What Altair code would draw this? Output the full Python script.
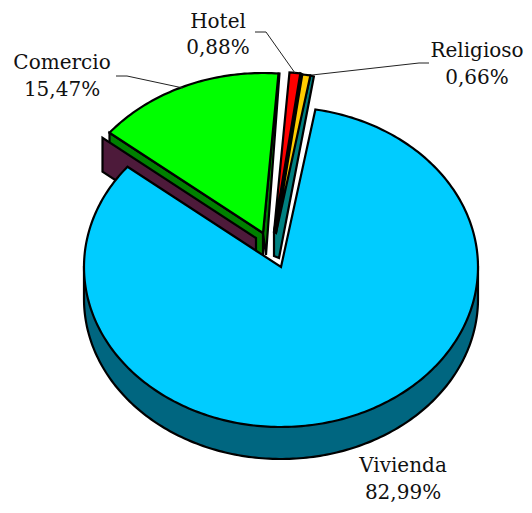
import math
import altair as alt

# Data
categories = ["Vivienda", "Comercio", "Hotel", "Religioso"]
shares = [82.99, 15.47, 0.88, 0.66]
share_labels = ["82,99%", "15,47%", "0,88%", "0,66%"]

# Pie geometry (chart pixels; page margin is 8px)
M = 8
RX, RY, DEPTH = 197, 160, 32
START = 10.05
CENTERS = {
    "Vivienda": (281 - M, 267 - M),
    "Comercio": (263 - M, 233 - M),
    "Hotel": (274 - M, 232 - M),
    "Religioso": (276 - M, 233 - M),
}
TOP = {"Vivienda": "#00CCFF", "Comercio": "#00FF00", "Hotel": "#FF0000", "Religioso": "#FFCC00"}


def pt(c, a, r=1.0):
    t = math.radians(a)
    return [c[0] + RX * r * math.sin(t), c[1] - RY * r * math.cos(t)]


def arc(c, a0, a1):
    n = max(2, int(abs(a1 - a0)) + 1)
    return [pt(c, a0 + (a1 - a0) * i / n) for i in range(n + 1)]


def shift(p, dx, dy):
    return [p[0] + dx, p[1] + dy]


def feat(key, ring):
    ring = [list(p) for p in ring]
    ring = ring + [ring[0]]
    return {
        "type": "Feature",
        "properties": {"key": key},
        "geometry": {"type": "Polygon", "coordinates": [ring]},
    }


# sector angle ranges derived from the shares
angles = {}
a = START
for cat, s in zip(categories, shares):
    angles[cat] = (a, a + s * 3.6)
    a += s * 3.6

features = []
cc = CENTERS["Comercio"]
c_a0, c_a1 = angles["Comercio"]
cv = CENTERS["Vivienda"]
ch = CENTERS["Hotel"]
cr = CENTERS["Religioso"]
r_a0, r_a1 = angles["Religioso"]
h_a0, h_a1 = angles["Hotel"]

# Comercio cut wall
p_out = pt(cc, c_a0)
features.append(feat("wall_green", [cc, p_out, shift(p_out, 0, DEPTH), shift(cc, 0, DEPTH)]))
# Comercio right wall (almost edge on)
p_r = pt(cc, c_a1 % 360)
features.append(feat("wall_green", [cc, p_r, shift(p_r, 1, 0), shift(cc, 3, 22)]))
# Maroon wall behind the big slice
cm = (256 - M, 238 - M)
p_m = pt(cm, c_a0)
features.append(feat("wall_maroon", [cm, p_m, shift(p_m, 0, 34), shift(cm, 0, 34)]))
# Hotel + Religioso walls
p_rr = pt(cr, r_a1 % 360)
features.append(feat("wall_teal", [ch, shift(ch, 0, 24), shift(ch, 5, 26), shift(p_rr, 3.5, 1), p_rr]))
features.append(feat("wall_dark", [ch, pt(ch, h_a1 % 360), pt(cr, r_a0 % 360), cr]))

# Vivienda side and top
v_a0, v_a1 = angles["Vivienda"]
lower = [shift(p, 0, DEPTH) for p in arc(cv, 90, 270)]
features.append(feat("side_blue", [pt(cv, 90)] + lower + [pt(cv, 270)]))
features.append(feat("Vivienda", [cv] + arc(cv, v_a0, v_a1)))

# Top faces of the small slices
features.append(feat("Comercio", [cc] + arc(cc, c_a0, c_a1)))
features.append(feat("Hotel", [ch] + arc(ch, h_a0 - 360, h_a1 - 360)))
features.append(feat("Religioso", [cr] + arc(cr, r_a0 - 360, r_a1 - 360)))

keys = list(TOP) + ["wall_green", "wall_maroon", "wall_teal", "wall_dark", "side_blue"]
colors = list(TOP.values()) + ["#008000", "#4D1A3A", "#008080", "#000000", "#006680"]

PROJ = dict(type="identity", scale=1, translate=[0, 0])

shapes = (
    alt.Chart(alt.Data(values=features))
    .mark_geoshape(stroke="black", strokeWidth=2.2, strokeJoin="miter")
    .encode(
        color=alt.Color(
            "properties.key:N", scale=alt.Scale(domain=keys, range=colors), legend=None
        )
    )
    .project(**PROJ)
)

# Leader lines
leader_cat = ["Comercio"] * 3 + ["Hotel"] * 3 + ["Religioso"] * 3
leader_x = [116, 127, 183, 255, 266, 295, 429, 419, 312]
leader_y = [76, 76, 88, 32, 32, 73, 63, 63, 75]
leader_order = [0, 1, 2] * 3
leaders = (
    alt.Chart(
        alt.Data(
            values=[
                {"c": c, "lon": x - M, "lat": y - M, "o": o}
                for c, x, y, o in zip(leader_cat, leader_x, leader_y, leader_order)
            ]
        )
    )
    .mark_line(color="#222222", strokeWidth=1)
    .encode(
        longitude="lon:Q",
        latitude="lat:Q",
        detail="c:N",
        order="o:Q",
    )
    .project(**PROJ)
)

# Labels
label_x = [403, 62, 218, 477]
name_y = [472, 69, 28, 57]
pct_y = [499, 96, 54, 84]
rows = []
for c, pct, x, y1, y2 in zip(categories, share_labels, label_x, name_y, pct_y):
    rows.append({"t": c, "lon": x - M, "lat": y1 - M})
    rows.append({"t": pct, "lon": x - M, "lat": y2 - M})
labels = (
    alt.Chart(alt.Data(values=rows))
    .mark_text(font="DejaVu Serif", fontSize=20, color="#111111", align="center", baseline="alphabetic")
    .encode(longitude="lon:Q", latitude="lat:Q", text="t:N")
    .project(**PROJ)
)

chart = (
    alt.layer(shapes, leaders, labels)
    .properties(width=516, height=497, padding=0)
    .configure_view(stroke=None)
    .configure(background="white")
)
chart.save("out.html", embed_options={"renderer": "svg", "actions": False})
